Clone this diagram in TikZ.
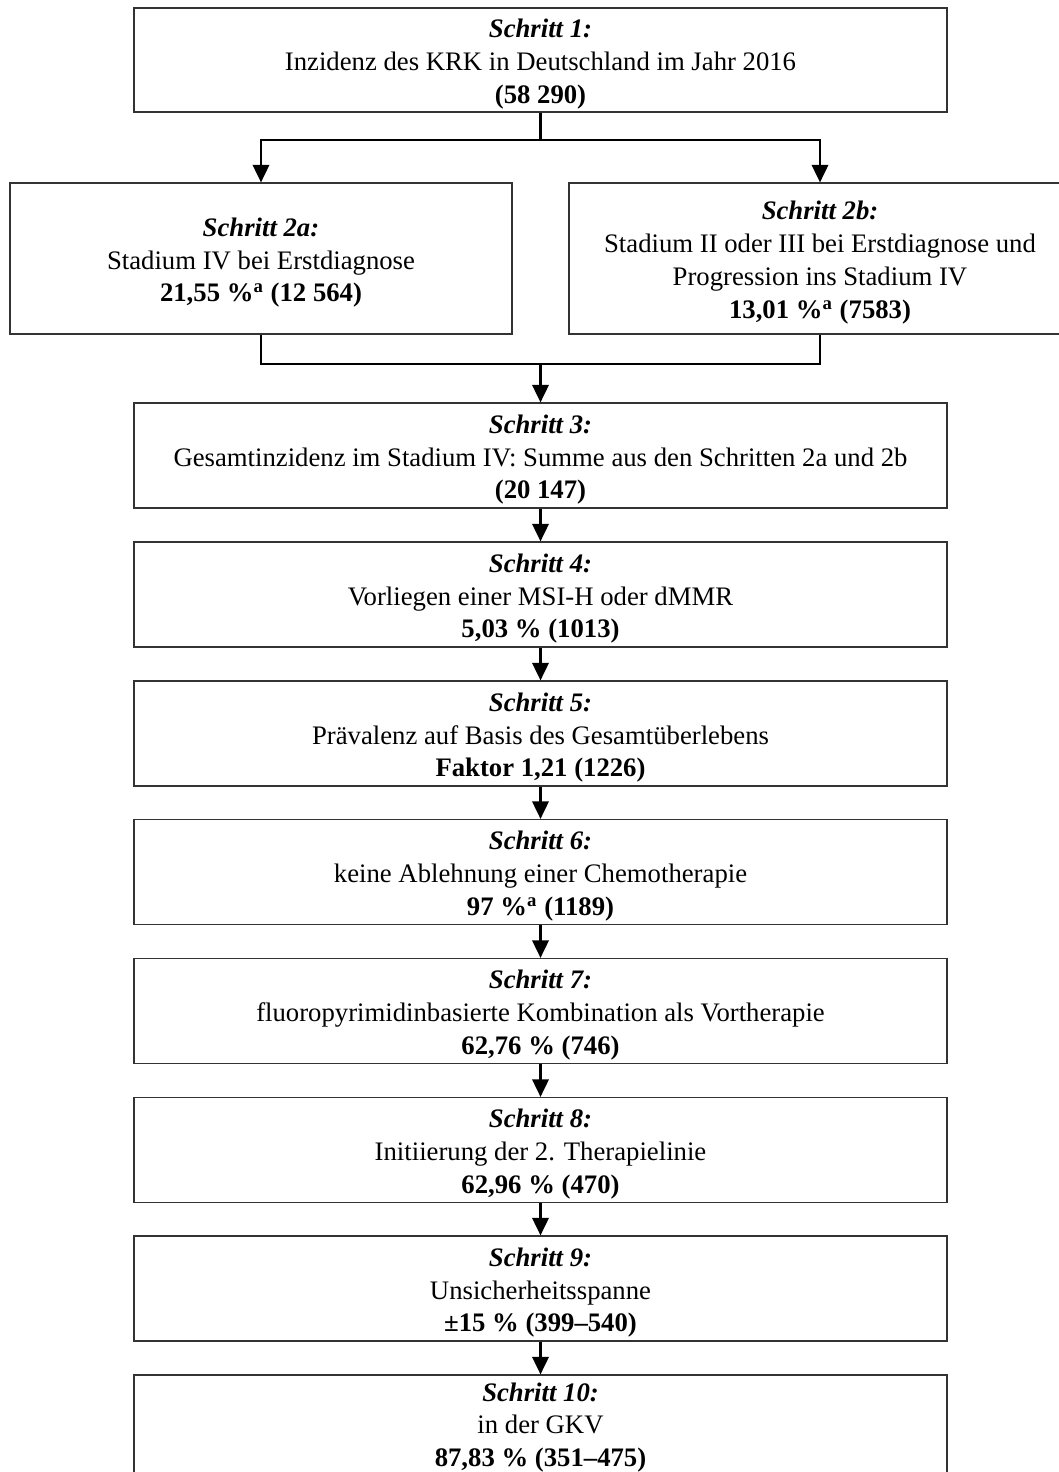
\documentclass[tikz,border=0pt]{standalone}
\usepackage{fontspec}
\setmainfont{Liberation Serif}
\usetikzlibrary{arrows.meta}
\newcommand{\kopf}[1]{\rule{0pt}{11.5pt}\textbf{\textit{#1}}}

\begin{document}
\begin{tikzpicture}[x=0.015cm,y=-0.015cm,
    font=\fontsize{11.4}{14}\selectfont,
    schritt/.style={draw=black!80, line width=0.5pt, align=center, inner sep=0pt,
      minimum width=12.195cm, minimum height=1.575cm},
    teilschritt/.style={schritt, minimum width=7.53cm, minimum height=2.265cm},
    conn/.style={line width=1pt},
    arr/.style={-{Triangle[length=7.5pt,width=7pt]}}]
      \useasboundingbox (0,0) rectangle (1059,1472);
      \fill[white] (0,0) rectangle (1059,1472);

      \node[schritt, minimum height=1.56cm] (s1) at (540.5,60)
        {\kopf{Schritt 1:}\\ Inzidenz des KRK in Deutschland im Jahr 2016\\ \textbf{(58~290)}};
      \node[teilschritt] (s2a) at (261,258.5)
        {\kopf{Schritt 2a:}\\ Stadium IV bei Erstdiagnose\\ \textbf{21,55 \%\textsuperscript{a} (12~564)}};
      \node[teilschritt] (s2b) at (820,258.5)
        {\kopf{Schritt 2b:}\\ Stadium II oder III bei Erstdiagnose und\\ Progression ins Stadium IV\\ \textbf{13,01 \%\textsuperscript{a} (7583)}};
      \node[schritt] (s3) at (540.5,455.5)
        {\kopf{Schritt 3:}\\ Gesamtinzidenz im Stadium IV: Summe aus den Schritten 2a und 2b\\ \textbf{(20~147)}};
      \node[schritt] (s4) at (540.5,594.5)
        {\kopf{Schritt 4:}\\ Vorliegen einer MSI-H oder dMMR\\ \textbf{5,03 \% (1013)}};
      \node[schritt] (s5) at (540.5,733.5)
        {\kopf{Schritt 5:}\\ Prävalenz auf Basis des Gesamtüberlebens\\ \textbf{Faktor 1,21 (1226)}};
      \node[schritt] (s6) at (540.5,872)
        {\kopf{Schritt 6:}\\ keine Ablehnung einer Chemotherapie\\ \textbf{97 \%\textsuperscript{a} (1189)}};
      \node[schritt] (s7) at (540.5,1011)
        {\kopf{Schritt 7:}\\ fluoropyrimidinbasierte Kombination als Vortherapie\\ \textbf{62,76 \% (746)}};
      \node[schritt] (s8) at (540.5,1150)
        {\kopf{Schritt 8:}\\ Initiierung der 2. Therapielinie\\ \textbf{62,96 \% (470)}};
      \node[schritt] (s9) at (540.5,1288.5)
        {\kopf{Schritt 9:}\\ Unsicherheitsspanne\\ \textbf{±15 \% (399–540)}};
      \node[schritt] (s10) at (540.5,1427.5)
        {\textbf{\textit{Schritt 10:}}\\ in der GKV\\ \textbf{87,83 \% (351–475)}};

      \coordinate (j1) at (540.5,140);
      \coordinate (j2) at (540.5,364);

      \draw[conn] (s1.south) -- (j1);
      \draw[conn,arr] (j1) -| (s2a.north);
      \draw[conn,arr] (j1) -| (s2b.north);
      \draw[conn] (s2a.south) |- (j2);
      \draw[conn] (s2b.south) |- (j2);
      \draw[conn,arr] (j2) -- (s3.north);
      \draw[conn,arr] (s3) -- (s4);
      \draw[conn,arr] (s4) -- (s5);
      \draw[conn,arr] (s5) -- (s6);
      \draw[conn,arr] (s6) -- (s7);
      \draw[conn,arr] (s7) -- (s8);
      \draw[conn,arr] (s8) -- (s9);
      \draw[conn,arr] (s9) -- (s10);
    \end{tikzpicture}
\end{document}
